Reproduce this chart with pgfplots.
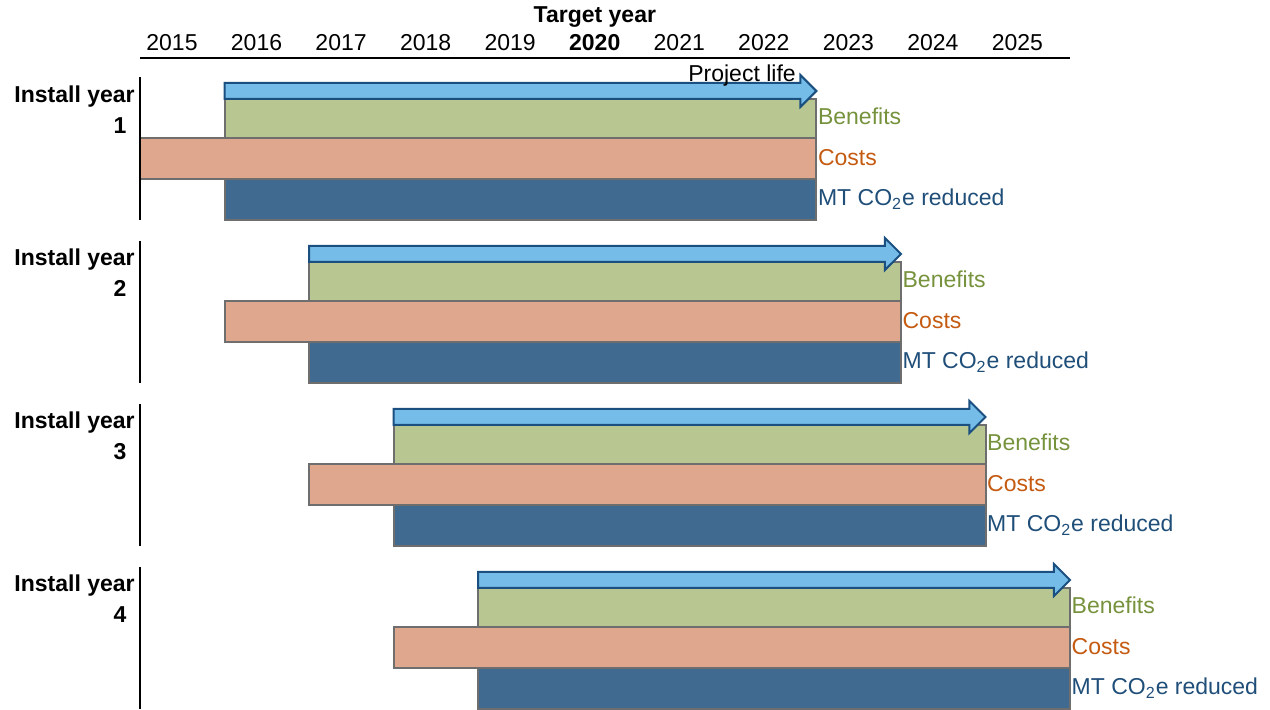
\documentclass[border=0pt]{standalone}
\usepackage{pgfplots}
\pgfplotsset{compat=1.18}
\usepackage{fontspec}
\setmainfont{Liberation Sans}
\definecolor{benfill}{HTML}{B8C691}
\definecolor{costfill}{HTML}{E0A78F}
\definecolor{co2fill}{HTML}{416A91}
\definecolor{arrfill}{HTML}{75BDE8}
\definecolor{arrline}{HTML}{1A4F80}
\definecolor{barline}{HTML}{6E6E6E}
\definecolor{bentext}{HTML}{76923C}
\definecolor{costtext}{HTML}{C55A11}
\definecolor{co2text}{HTML}{1F4E79}
\newcommand\fs{\fontsize{11.5bp}{13.8bp}\selectfont}
\tikzset{
  yl/.style={anchor=base,font=\fs},
  iy/.style={anchor=base east,inner sep=0pt,font=\fs\bfseries},
  nm/.style={anchor=base,font=\fs\bfseries},
  lb/.style={anchor=base west,inner sep=0pt,font=\fs,text=bentext},
  lc/.style={anchor=base west,inner sep=0pt,font=\fs,text=costtext},
  lm/.style={anchor=base west,inner sep=0pt,font=\fs,text=co2text}}
\begin{document}
\begin{tikzpicture}
\begin{axis}[width=635bp,height=355bp,scale only axis,hide axis,
  xmin=2013.344,xmax=2028.365,ymin=0,ymax=710,y dir=reverse,clip=false]
% ---- Group 1 (install 2016) ----
\addplot[fill=benfill,draw=barline,line width=1bp] coordinates {(2016,99) (2023,99) (2023,138) (2016,138)} -- cycle;
\addplot[fill=costfill,draw=barline,line width=1bp] coordinates {(2015,138) (2023,138) (2023,179) (2015,179)} -- cycle;
\addplot[fill=co2fill,draw=barline,line width=1bp] coordinates {(2016,179) (2023,179) (2023,220) (2016,220)} -- cycle;
\addplot[fill=arrfill,draw=arrline,line width=1bp] coordinates {(2016,83) (2022.81,83) (2022.81,75) (2023,91) (2022.81,107) (2022.81,99) (2016,99)} -- cycle;
\addplot[black,line width=1bp] coordinates {(2015,77) (2015,220)};
% ---- Group 2 (install 2017) ----
\addplot[fill=benfill,draw=barline,line width=1bp] coordinates {(2017,262) (2024,262) (2024,301) (2017,301)} -- cycle;
\addplot[fill=costfill,draw=barline,line width=1bp] coordinates {(2016,301) (2024,301) (2024,342) (2016,342)} -- cycle;
\addplot[fill=co2fill,draw=barline,line width=1bp] coordinates {(2017,342) (2024,342) (2024,383) (2017,383)} -- cycle;
\addplot[fill=arrfill,draw=arrline,line width=1bp] coordinates {(2017,246) (2023.81,246) (2023.81,238) (2024,254) (2023.81,270) (2023.81,262) (2017,262)} -- cycle;
\addplot[black,line width=1bp] coordinates {(2015,241) (2015,383)};
% ---- Group 3 (install 2018) ----
\addplot[fill=benfill,draw=barline,line width=1bp] coordinates {(2018,425) (2025,425) (2025,464) (2018,464)} -- cycle;
\addplot[fill=costfill,draw=barline,line width=1bp] coordinates {(2017,464) (2025,464) (2025,505) (2017,505)} -- cycle;
\addplot[fill=co2fill,draw=barline,line width=1bp] coordinates {(2018,505) (2025,505) (2025,546) (2018,546)} -- cycle;
\addplot[fill=arrfill,draw=arrline,line width=1bp] coordinates {(2018,409) (2024.81,409) (2024.81,401) (2025,417) (2024.81,433) (2024.81,425) (2018,425)} -- cycle;
\addplot[black,line width=1bp] coordinates {(2015,404) (2015,546)};
% ---- Group 4 (install 2019) ----
\addplot[fill=benfill,draw=barline,line width=1bp] coordinates {(2019,588) (2026,588) (2026,627) (2019,627)} -- cycle;
\addplot[fill=costfill,draw=barline,line width=1bp] coordinates {(2018,627) (2026,627) (2026,668) (2018,668)} -- cycle;
\addplot[fill=co2fill,draw=barline,line width=1bp] coordinates {(2019,668) (2026,668) (2026,709) (2019,709)} -- cycle;
\addplot[fill=arrfill,draw=arrline,line width=1bp] coordinates {(2019,572) (2025.81,572) (2025.81,564) (2026,580) (2025.81,596) (2025.81,588) (2019,588)} -- cycle;
\addplot[black,line width=1bp] coordinates {(2015,567) (2015,709)};
% ---- top year line ----
\addplot[black,line width=1bp] coordinates {(2015,58) (2026,58)};
% ---- texts ----
\node[anchor=base,font=\fs\bfseries] at (axis cs:2020.38,23) {Target year};
\node[yl] at (axis cs:2015.378,51) {2015};
\node[yl] at (axis cs:2016.378,51) {2016};
\node[yl] at (axis cs:2017.378,51) {2017};
\node[yl] at (axis cs:2018.378,51) {2018};
\node[yl] at (axis cs:2019.378,51) {2019};
\node[yl,font=\fs\bfseries] at (axis cs:2020.378,51) {2020};
\node[yl] at (axis cs:2021.378,51) {2021};
\node[yl] at (axis cs:2022.378,51) {2022};
\node[yl] at (axis cs:2023.378,51) {2023};
\node[yl] at (axis cs:2024.378,51) {2024};
\node[yl] at (axis cs:2025.378,51) {2025};
\node[anchor=base east,inner sep=0pt,font=\fs] at (axis cs:2022.76,82) {Project life};
% group labels
\node[iy] at (axis cs:2014.941,103) {Install year};
\node[nm] at (axis cs:2014.763,134) {1};
\node[iy] at (axis cs:2014.941,266) {Install year};
\node[nm] at (axis cs:2014.763,297) {2};
\node[iy] at (axis cs:2014.941,429) {Install year};
\node[nm] at (axis cs:2014.763,460) {3};
\node[iy] at (axis cs:2014.941,592) {Install year};
\node[nm] at (axis cs:2014.763,623) {4};
% series labels
\node[lb] at (axis cs:2023.015,125) {Benefits};
\node[lc] at (axis cs:2023.015,166) {Costs};
\node[lm] at (axis cs:2023.015,206) {MT CO\textsubscript{2}e reduced};
\node[lb] at (axis cs:2024.015,288) {Benefits};
\node[lc] at (axis cs:2024.015,329) {Costs};
\node[lm] at (axis cs:2024.015,369) {MT CO\textsubscript{2}e reduced};
\node[lb] at (axis cs:2025.015,451) {Benefits};
\node[lc] at (axis cs:2025.015,492) {Costs};
\node[lm] at (axis cs:2025.015,532) {MT CO\textsubscript{2}e reduced};
\node[lb] at (axis cs:2026.015,614) {Benefits};
\node[lc] at (axis cs:2026.015,655) {Costs};
\node[lm] at (axis cs:2026.015,695) {MT CO\textsubscript{2}e reduced};
\end{axis}
\pgfresetboundingbox
\path (current axis.south west) rectangle (current axis.north east);
\end{tikzpicture}
\end{document}
